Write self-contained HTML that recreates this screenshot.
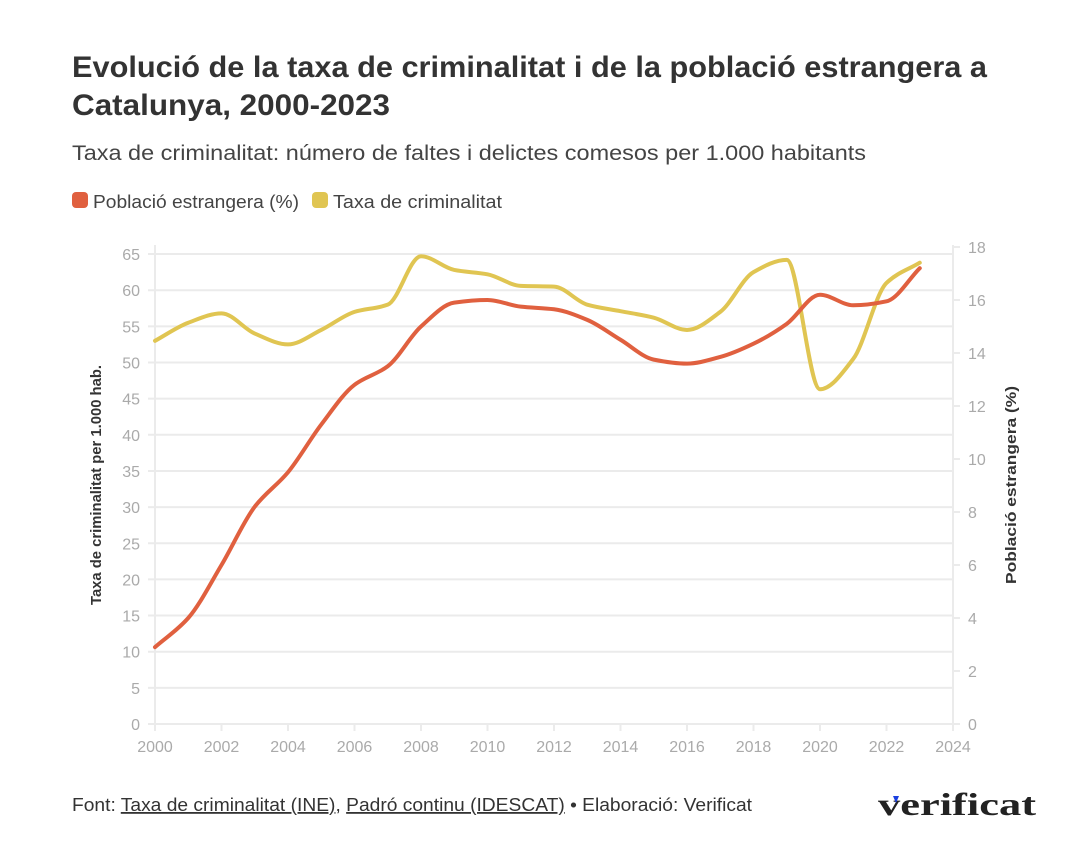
<!DOCTYPE html>
<html><head><meta charset="utf-8"><style>
body{margin:0;background:#fff;font-family:"Liberation Sans",sans-serif;}
</style></head><body>
<svg id="s" width="1080" height="852" xmlns="http://www.w3.org/2000/svg" font-family="Liberation Sans, sans-serif">
<text x="72" y="77" font-size="30" font-weight="bold" fill="#333" textLength="915" lengthAdjust="spacingAndGlyphs">Evolució de la taxa de criminalitat i de la població estrangera a</text>
<text x="72" y="115" font-size="30" font-weight="bold" fill="#333" textLength="318" lengthAdjust="spacingAndGlyphs">Catalunya, 2000-2023</text>
<text x="72" y="160" font-size="21" fill="#444" textLength="794" lengthAdjust="spacingAndGlyphs">Taxa de criminalitat: número de faltes i delictes comesos per 1.000 habitants</text>
<rect x="72" y="192" width="16" height="16" rx="4" fill="#e0603f"/>
<text x="93" y="208" font-size="18" fill="#444" textLength="206" lengthAdjust="spacingAndGlyphs">Població estrangera (%)</text>
<rect x="312" y="192" width="16" height="16" rx="4" fill="#e0c552"/>
<text x="333" y="208" font-size="18" fill="#444" textLength="169" lengthAdjust="spacingAndGlyphs">Taxa de criminalitat</text>
<g id="grid"></g>
<text transform="translate(101,485) rotate(-90)" text-anchor="middle" font-size="15" font-weight="bold" fill="#333" textLength="240" lengthAdjust="spacingAndGlyphs">Taxa de criminalitat per 1.000 hab.</text>
<text transform="translate(1016,485) rotate(-90)" text-anchor="middle" font-size="15" font-weight="bold" fill="#333" textLength="198" lengthAdjust="spacingAndGlyphs">Població estrangera (%)</text>
<text x="72" y="811" font-size="18" fill="#333" textLength="680" lengthAdjust="spacingAndGlyphs">Font: <tspan text-decoration="underline">Taxa de criminalitat (INE)</tspan>, <tspan text-decoration="underline">Padró continu (IDESCAT)</tspan> • Elaboració: Verificat</text>
<text x="878" y="815" font-size="32" font-weight="bold" font-family="Liberation Serif, serif" fill="#222" textLength="158" lengthAdjust="spacingAndGlyphs">verificat</text>
<path d="M893 796 l6 0 l-3 7 z" fill="#1a3fe0"/>
</svg>
<script>
const X=y=>155+(y-2000)*33.25, YL=v=>724-v*7.23, YR=v=>724-v*26.5;
const g=document.getElementById('grid');let h='';
for(let v=0;v<=65;v+=5){const y=YL(v);h+=`<line x1="148" x2="953" y1="${y}" y2="${y}" stroke="#ebebeb" stroke-width="2"/><text x="140" y="${y+6}" text-anchor="end" font-size="16" fill="#aaa">${v}</text>`;}
for(let v=0;v<=18;v+=2){const y=YR(v);h+=`<line x1="953" x2="960" y1="${y}" y2="${y}" stroke="#ebebeb" stroke-width="2"/><text x="968" y="${y+6}" font-size="16" fill="#aaa">${v}</text>`;}
for(let yr=2000;yr<=2024;yr+=2){const x=X(yr);h+=`<line x1="${x}" x2="${x}" y1="724" y2="731" stroke="#ebebeb" stroke-width="2"/><text x="${x}" y="752" text-anchor="middle" font-size="16" fill="#aaa">${yr}</text>`;}
h+=`<line x1="155" x2="155" y1="245" y2="731" stroke="#ebebeb" stroke-width="2"/><line x1="953" x2="953" y1="245" y2="731" stroke="#ebebeb" stroke-width="2"/>`;
const crime=[53,55.5,56.8,54,52.5,54.5,57,58,64.7,62.8,62.2,60.6,60.5,58,57.1,56.2,54.5,57,62.5,64.2,46.3,50.5,61,63.8];
const pop=[2.9,4.0,6.0,8.2,9.5,11.3,12.8,13.5,15.0,15.9,16.0,15.75,15.65,15.25,14.5,13.75,13.6,13.85,14.35,15.1,16.2,15.8,15.95,17.2];
function path(d,f){const p=d.map((v,i)=>[X(2000+i),f(v)]);const n=p.length,dx=33.25;
const s=[];for(let i=0;i<n-1;i++)s.push((p[i+1][1]-p[i][1])/dx);
const m=[];m[0]=s[0];m[n-1]=s[n-2];
for(let i=1;i<n-1;i++){if(s[i-1]*s[i]<=0)m[i]=0;else m[i]=2/(1/s[i-1]+1/s[i]);}
let o=`M${p[0][0]},${p[0][1]}`;
for(let i=0;i<n-1;i++){const a=p[i],b=p[i+1];o+=`C${a[0]+dx/3},${a[1]+m[i]*dx/3} ${b[0]-dx/3},${b[1]-m[i+1]*dx/3} ${b[0]},${b[1]}`;}return o;}
h+=`<path d="${path(crime,YL)}" fill="none" stroke="#e0c552" stroke-width="4" stroke-linecap="round"/>`;
h+=`<path d="${path(pop,YR)}" fill="none" stroke="#e0603f" stroke-width="4" stroke-linecap="round"/>`;
g.innerHTML=h;
</script>
</body></html>
